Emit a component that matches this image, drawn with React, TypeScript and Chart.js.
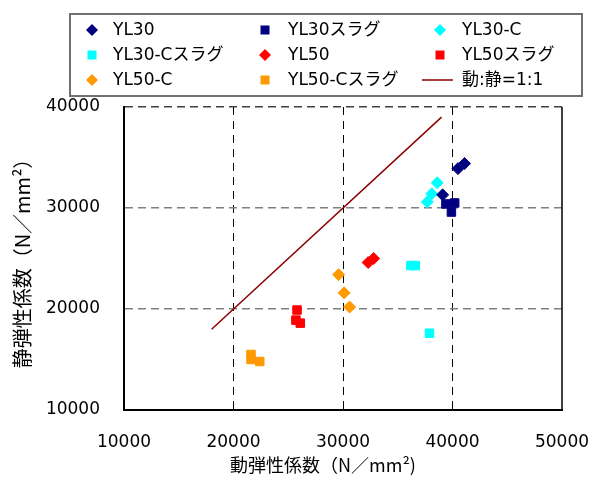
import React, { useEffect, useRef } from 'react';
import { Chart, registerables } from 'chart.js';

Chart.register(...registerables);

// ---- Data ----
const yl30X = [40500, 41100, 39100];
const yl30Y = [33900, 34400, 31300];
const yl30SlagX = [39400, 40200, 39900];
const yl30SlagY = [30400, 30500, 29600];
const yl30cX = [38600, 38100, 37700];
const yl30cY = [32500, 31400, 30600];
const yl30cSlagX = [36200, 36600, 37900];
const yl30cSlagY = [24300, 24300, 17600];
const yl50X = [32300, 32800];
const yl50Y = [24600, 25000];
const yl50SlagX = [25800, 25700, 26100];
const yl50SlagY = [19900, 18900, 18600];
const yl50cX = [29600, 30100, 30600];
const yl50cY = [23400, 21600, 20200];
const yl50cSlagX = [21600, 21600, 22400];
const yl50cSlagY = [15500, 15000, 14800];
const lineX = [18000, 39000];
const lineY = [18000, 39000];

const xTicks = [10000, 20000, 30000, 40000, 50000];
const yTicks = [10000, 20000, 30000, 40000];

const names = [
  'YL30', 'YL30スラグ', 'YL30-C',
  'YL30-Cスラグ', 'YL50', 'YL50スラグ',
  'YL50-C', 'YL50-Cスラグ', '動:静=1:1',
];
const xTitle = '動弾性係数（N／mm²)';
const yTitle = '静弾性係数（N／mm²）';

const NAVY = '#000080';
const CYAN = '#00FFFF';
const RED = '#FF0000';
const ORANGE = '#FF9900';
const LINE = '#8B0000';

const FONT = '"DejaVu Sans", "Noto Sans CJK JP", sans-serif';
const JFONT = '"Noto Sans CJK JP", "DejaVu Sans", sans-serif';

const zip = (xs: number[], ys: number[]) => xs.map((x, i) => ({ x, y: ys[i] }));

const seriesDefs = [
  { label: names[0], data: zip(yl30X, yl30Y), color: NAVY, style: 'rectRot' },
  { label: names[1], data: zip(yl30SlagX, yl30SlagY), color: NAVY, style: 'rect' },
  { label: names[2], data: zip(yl30cX, yl30cY), color: CYAN, style: 'rectRot' },
  { label: names[3], data: zip(yl30cSlagX, yl30cSlagY), color: CYAN, style: 'rect' },
  { label: names[4], data: zip(yl50X, yl50Y), color: RED, style: 'rectRot' },
  { label: names[5], data: zip(yl50SlagX, yl50SlagY), color: RED, style: 'rect' },
  { label: names[6], data: zip(yl50cX, yl50cY), color: ORANGE, style: 'rectRot' },
  { label: names[7], data: zip(yl50cSlagX, yl50cSlagY), color: ORANGE, style: 'rect' },
];

const legendPlugin = {
  id: 'boxLegend',
  afterDraw(chart: any) {
    const ctx = chart.ctx;
    ctx.save();
    ctx.strokeStyle = '#707070';
    ctx.lineWidth = 2;
    ctx.strokeRect(70, 14, 512, 82);
    const colsMarker = [92, 265, 440];
    const colsText = [113, 288, 462];
    const rows = [30, 55, 80];
    ctx.font = `17px ${FONT}`;
    ctx.textBaseline = 'middle';
    ctx.textAlign = 'left';
    for (let i = 0; i < 9; i++) {
      const c = i % 3;
      const r = Math.floor(i / 3);
      const mx = colsMarker[c];
      const my = rows[r];
      if (i < 8) {
        const d = seriesDefs[i];
        ctx.fillStyle = d.color;
        ctx.beginPath();
        if (d.style === 'rectRot') {
          const s = 6;
          ctx.moveTo(mx, my - s);
          ctx.lineTo(mx + s, my);
          ctx.lineTo(mx, my + s);
          ctx.lineTo(mx - s, my);
          ctx.closePath();
        } else {
          ctx.rect(mx - 4.5, my - 4.5, 9, 9);
        }
        ctx.fill();
      } else {
        ctx.strokeStyle = LINE;
        ctx.lineWidth = 1.5;
        ctx.beginPath();
        ctx.moveTo(422, my);
        ctx.lineTo(453, my);
        ctx.stroke();
      }
      ctx.fillStyle = '#000';
      ctx.fillText(names[i], colsText[c], my + 1);
    }
    ctx.restore();
  },
};

const rightBorderPlugin = {
  id: 'rightBorder',
  beforeDatasetsDraw(chart: any) {
    const { ctx, chartArea } = chart;
    ctx.save();
    ctx.strokeStyle = '#000';
    ctx.lineWidth = 1.5;
    ctx.beginPath();
    ctx.moveTo(chartArea.right, chartArea.top);
    ctx.lineTo(chartArea.right, chartArea.bottom + 1);
    ctx.stroke();
    ctx.restore();
  },
};

export default function App() {
  const ref = useRef<HTMLCanvasElement | null>(null);
  useEffect(() => {
    if (!ref.current) return;
    document.body.style.margin = '0';
    Chart.defaults.color = '#000';
    const datasets: any[] = seriesDefs.map((d) => ({
      label: d.label,
      data: d.data,
      backgroundColor: d.color,
      borderColor: d.color,
      borderWidth: 1,
      pointStyle: d.style,
      pointRadius: 6,
      pointHoverRadius: 6,
    }));
    datasets.push({
      label: names[8],
      data: zip(lineX, lineY),
      showLine: true,
      borderColor: LINE,
      backgroundColor: LINE,
      borderWidth: 1.5,
      pointRadius: 0,
      order: 10,
    });
    const chart = new Chart(ref.current, {
      type: 'scatter',
      data: { datasets },
      plugins: [legendPlugin, rightBorderPlugin],
      options: {
        animation: false,
        responsive: false,
        layout: { padding: { top: 107, right: 30, left: 0, bottom: 0 } },
        plugins: { legend: { display: false }, tooltip: { enabled: false } },
        scales: {
          x: {
            type: 'linear',
            min: xTicks[0],
            max: xTicks[xTicks.length - 1],
            afterBuildTicks: (s: any) => { s.ticks = xTicks.map((v) => ({ value: v })); },
            afterFit: (s: any) => { s.height = 67; },
            ticks: { font: { size: 17, family: FONT }, padding: 2, color: '#000', callback: (v: any) => String(v) },
            grid: {
              drawTicks: true,
              tickLength: 20,
              tickColor: 'rgba(0,0,0,0)',
              lineWidth: 1,
              color: (c: any) => (c.tick && (c.tick.value === 10000 || c.tick.value === 50000) ? 'rgba(0,0,0,0)' : '#000'),
            },
            border: { display: true, color: '#000', width: 2, dash: [8, 6] },
            title: {
              display: true,
              text: xTitle + '　　 ',
              font: { size: 18, family: JFONT },
              padding: { top: 0, bottom: 1 },
              color: '#000',
            },
          },
          y: {
            type: 'linear',
            min: yTicks[0],
            max: yTicks[yTicks.length - 1],
            afterBuildTicks: (s: any) => { s.ticks = yTicks.map((v) => ({ value: v })); },
            afterFit: (s: any) => { s.width = 124; },
            ticks: { font: { size: 17, family: FONT }, padding: 2, color: '#000', callback: (v: any) => String(v) },
            grid: {
              drawTicks: true,
              tickLength: 22,
              tickColor: 'rgba(0,0,0,0)',
              lineWidth: 1.5,
              color: (c: any) => {
                const v = c.tick && c.tick.value;
                if (v === 10000) return 'rgba(0,0,0,0)';
                if (v === 40000) return '#404040';
                return '#808080';
              },
            },
            border: { display: true, color: '#000', width: 2, dash: [8, 5] },
            title: {
              display: true,
              text: yTitle,
              font: { size: 20, family: JFONT },
              padding: { top: 10, bottom: 0 },
              color: '#000',
            },
          },
        },
      } as any,
    });
    return () => chart.destroy();
  }, []);
  return (
    <div style={{ position: 'absolute', left: 0, top: 0, width: 592, height: 477 }}>
      <canvas ref={ref} width={592} height={477} style={{ width: 592, height: 477 }} />
    </div>
  );
}
